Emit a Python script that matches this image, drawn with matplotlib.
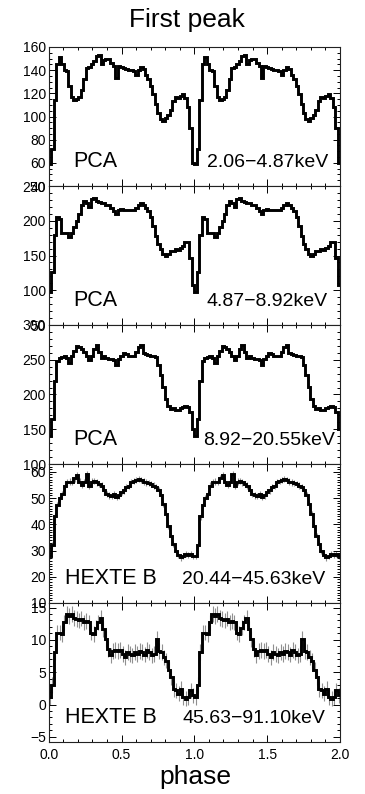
import numpy as np
import matplotlib
matplotlib.use("Agg")
import matplotlib.pyplot as plt
from matplotlib.ticker import MultipleLocator, FormatStrFormatter

plt.rcParams['font.family'] = ['Liberation Sans', 'DejaVu Sans']

# ---- data (one pulse cycle, repeated twice) ----
pca_low = [59, 72, 114, 145, 151, 145, 140, 139, 126, 117, 114, 115, 117, 123, 132,
           142, 143, 145, 148, 152, 153, 145, 149, 150, 150, 146, 144, 133, 144, 143,
           142, 141, 140, 140, 139, 136, 140, 143, 141, 136, 132, 126, 119, 111, 103,
           98, 96, 99, 101, 106, 113, 117, 116, 118, 119, 116, 108, 90, 60]
pca_mid = [97, 126, 180, 205, 202, 183, 183, 182, 177, 183, 191, 200, 210, 222, 229,
           225, 220, 231, 233, 229, 227, 226, 226, 223, 223, 219, 214, 209, 215, 217,
           216, 216, 215, 216, 216, 219, 223, 225, 222, 218, 214, 205, 193, 178, 166,
           159, 152, 150, 152, 157, 157, 159, 158, 161, 164, 169, 169, 147, 108]
pca_high = [140, 165, 220, 248, 252, 254, 255, 252, 246, 256, 263, 270, 268, 266, 261,
            256, 249, 256, 266, 271, 261, 252, 255, 252, 251, 251, 249, 242, 251, 256,
            259, 258, 255, 256, 256, 261, 268, 271, 259, 258, 257, 256, 255, 254, 242,
            228, 211, 194, 184, 179, 181, 177, 178, 180, 182, 184, 182, 175, 151]
hexte_1 = [28, 32, 43, 47.5, 50, 51.5, 54.8, 56, 56.3, 56.3, 57.5, 58.8, 56.3, 55, 56,
           59.2, 54.8, 56.3, 56.6, 56, 55.3, 54.8, 52.9, 51.6, 51, 50.7, 51.6, 50.3, 51, 52.3,
           52.9, 54.1, 54.8, 56, 56.6, 57, 57.3, 57, 56.3, 56, 55.8, 55.3, 54.8, 54.1, 52.9,
           51, 47.8, 44, 39.5, 35.6, 32.5, 30, 28.2, 27.4, 27.9, 28.6, 28.2, 28.6, 27.9]
hexte_2 = [1.2, 3, 8.1, 11.1, 11.1, 10.9, 12.7, 14, 13.7, 14, 13.4, 13.2, 13, 13.3, 12.7,
           12.9, 12.7, 11.1, 10.9, 11.9, 12.7, 13.4, 11.7, 10.1, 8.6, 7.6, 8.3, 8.4, 8.3, 8.4,
           7.8, 7.3, 8.1, 7.8, 7.6, 8.1, 7.8, 8.3, 8.1, 7.7, 8.4, 8.1, 7.6, 7.8, 10.1,
           8.3, 8.1, 7.3, 6.8, 5.3, 4.2, 2.4, 2.2, 1.7, 2.4, 1.2, 0.9, 1.2, 2.2, 1.4]
hexte_1_err = 1.2
hexte_2_err = 1.2

instruments = ["PCA", "PCA", "PCA", "HEXTE B", "HEXTE B"]
energies = ["2.06\u22124.87keV", "4.87\u22128.92keV", "8.92\u221220.55keV",
            "20.44\u221245.63keV", "45.63\u221291.10keV"]
series = [pca_low, pca_mid, pca_high, hexte_1, hexte_2]
errors = [None, None, None, hexte_1_err, hexte_2_err]
ylims = [(40, 160), (50, 250), (100, 300), (10, 63), (-5.8, 15.7)]
ymajor = [20, 50, 50, 10, 5]
yminor = [5, 10, 10, 1, 1]
n_cycles = 2

# ---- layout ----
W, H = 365, 794
fig = plt.figure(figsize=(W / 100, H / 100), dpi=100)
left_px, right_px = 48.7, 340.0
top_px, bot_px = 47.0, 742.0
ph = (bot_px - top_px) / 5
inst_x = [0.083, 0.083, 0.083, 0.056, 0.056]
en_x = [0.543, 0.543, 0.530, 0.458, 0.458]

for i in range(5):
    y0 = 1 - (top_px + (i + 1) * ph) / H
    ax = fig.add_axes([left_px / W, y0, (right_px - left_px) / W, ph / H])
    vals = np.tile(np.asarray(series[i], float), n_cycles)
    edges = np.linspace(0, n_cycles, len(vals) + 1)
    if errors[i] is not None:
        centers = 0.5 * (edges[:-1] + edges[1:])
        ax.errorbar(centers, vals, yerr=errors[i], fmt='none', ecolor='#909090',
                    elinewidth=0.8, capsize=0, zorder=1)
    ax.stairs(vals, edges, baseline=None, color='black', linewidth=2.1, zorder=2)
    ax.set_xlim(0, 2)
    ax.set_ylim(*ylims[i])
    ax.xaxis.set_major_locator(MultipleLocator(0.5))
    ax.xaxis.set_minor_locator(MultipleLocator(0.1))
    ax.yaxis.set_major_locator(MultipleLocator(ymajor[i]))
    ax.yaxis.set_minor_locator(MultipleLocator(yminor[i]))
    ax.tick_params(which='both', direction='in', top=True, right=True, colors='black',
                   labelsize=10, width=0.7)
    ax.tick_params(which='major', length=5)
    ax.tick_params(which='minor', length=2.5)
    ax.tick_params(axis='y', pad=2)
    ax.tick_params(axis='x', pad=4)
    for s in ax.spines.values():
        s.set_linewidth(0.8)
        s.set_color('#222222')
    if i < 4:
        ax.tick_params(axis='x', labelbottom=False)
    else:
        ax.xaxis.set_major_formatter(FormatStrFormatter('%.1f'))
    ax.text(inst_x[i], 0.137, instruments[i], transform=ax.transAxes,
            fontsize=15.5, ha='left', va='baseline')
    ax.text(en_x[i], 0.137, energies[i], transform=ax.transAxes,
            fontsize=14, ha='left', va='baseline')

fig.text(0.513, 1 - 20 / H, "First peak", fontsize=19, ha='center', va='center')
fig.text(0.535, 1 - 777 / H, "phase", fontsize=19, ha='center', va='center')

fig.savefig("out.png", dpi=100)
